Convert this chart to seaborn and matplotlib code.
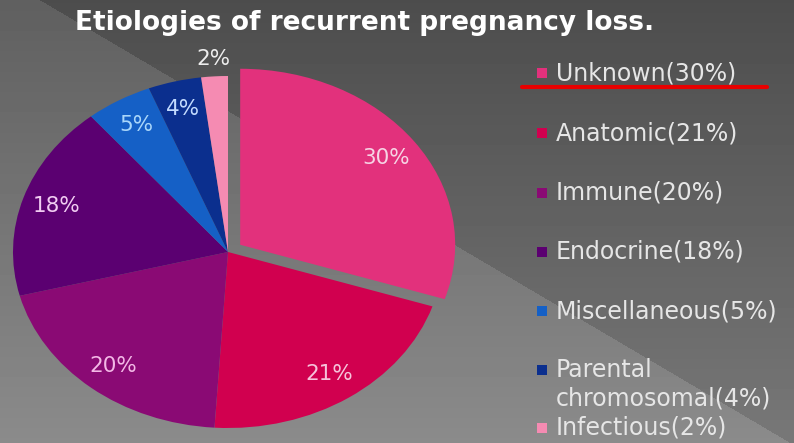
import numpy as np
import matplotlib
matplotlib.use("Agg")
import matplotlib.pyplot as plt
from matplotlib.patches import Rectangle
from matplotlib.lines import Line2D
import seaborn as sns

# Data: causes of recurrent pregnancy loss (percent)
categories = ["Unknown", "Anatomic", "Immune", "Endocrine",
              "Miscellaneous", "Parental\nchromosomal", "Infectious"]
shares = [30, 21, 20, 18, 5, 4, 2]
title = "Etiologies of recurrent pregnancy loss."

# Styling
slice_colors = ["#E2317C", "#D1004F", "#8A0A74", "#5B0071",
                "#1560C6", "#0B2F8E", "#F58BB2"]
pct_colors = ["#F6D3E4", "#F6C3DA", "#F3B8E6", "#F1CCF2",
              "#A9D6FA", "#C3DBFF", "#EDEDED"]
explode = [0.07, 0, 0, 0, 0, 0, 0]

sns.set_theme(style="white")
plt.rcParams["font.family"] = ["DejaVu Sans"]

W, H = 794, 443
fig = plt.figure(figsize=(W / 100, H / 100), dpi=100)

# Gray slide background with a diagonal lighter panel
bg = fig.add_axes([0, 0, 1, 1])
bg.axis("off")
yy, xx = np.mgrid[0:H, 0:W].astype(float)
shade = 0.30 + 0.17 * (yy / H)
below = yy > (xx - 40) * 445.0 / 754.0
shade = shade + 0.075 * below
bg.imshow(shade, cmap="gray", vmin=0, vmax=1, aspect="auto",
          extent=(0, W, H, 0), interpolation="bilinear")
bg.set_xlim(0, W)
bg.set_ylim(H, 0)

# Pie (elliptical)
ax = fig.add_axes([13 / W, 15 / H, 430 / W, 352 / H])
wedges, texts, autotexts = ax.pie(
    shares, colors=sns.color_palette(slice_colors), startangle=90,
    counterclock=False, explode=explode, autopct="%d%%", pctdistance=0.84,
    wedgeprops=dict(linewidth=0),
    textprops=dict(fontsize=15.5))
ax.set_aspect("auto")
ax.set_xlim(-1, 1)
ax.set_ylim(-1, 1)
for w in wedges:
    w.set_clip_on(False)
for t, c in zip(autotexts, pct_colors):
    t.set_color(c)
    t.set_clip_on(False)
# Smallest slice: label sits just outside the rim
small = wedges[-1]
ang = np.deg2rad((small.theta1 + small.theta2) / 2)
autotexts[-1].set_position((1.1 * np.cos(ang), 1.1 * np.sin(ang)))

fig.text(365 / W, 1 - 23 / H, title, ha="center", va="center",
         fontsize=19, fontweight="bold", color="white")

# Legend entries
entry_y = [73, 133, 193, 252, 311, 370, 428]
for name, val, col, y in zip(categories, shares, slice_colors, entry_y):
    fig.patches.append(Rectangle((537 / W, 1 - (y + 5) / H), 10 / W, 10 / H,
                                 transform=fig.transFigure, facecolor=col,
                                 edgecolor="none"))
    label = f"{name}({val}%)"
    if "\n" in label:
        fig.text(556 / W, 1 - (y - 12) / H, label, ha="left", va="top",
                 fontsize=17, color="#E6E6E6", linespacing=1.25)
    else:
        fig.text(556 / W, 1 - y / H, label, ha="left", va="center",
                 fontsize=17, color="#E6E6E6")

# Red underline beneath the first entry
fig.add_artist(Line2D([522 / W, 767 / W], [1 - 87 / H, 1 - 87 / H],
                      transform=fig.transFigure, color="#E80000", linewidth=3))

fig.savefig("out.png", dpi=100)
